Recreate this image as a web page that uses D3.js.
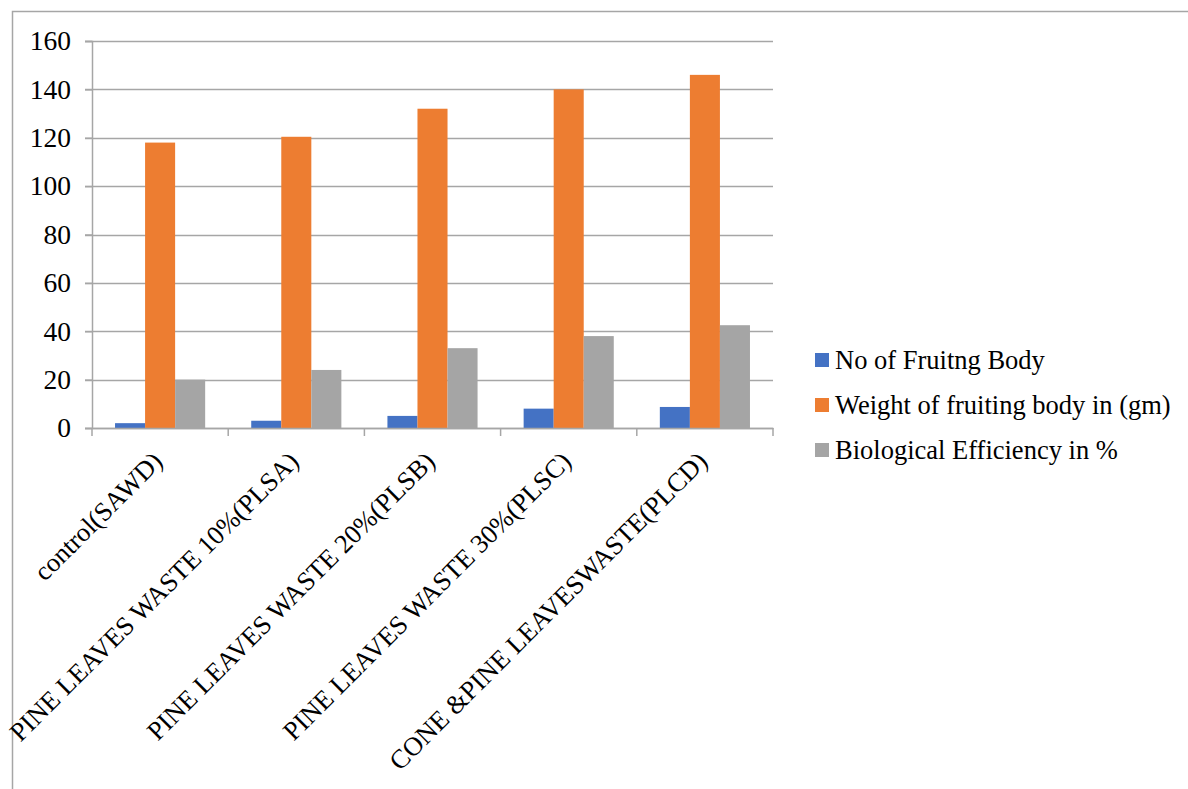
<!DOCTYPE html>
<html>
<head>
<meta charset="utf-8">
<script src="https://cdn.jsdelivr.net/npm/d3@7"></script>
<style>
  body { margin: 0; background: #fff; }
  text { font-family: 'Liberation Serif', 'Times New Roman', serif; fill: #000; }
</style>
</head>
<body>
<script>
const categories = [
  'control(SAWD)',
  'PINE LEAVES WASTE 10%(PLSA)',
  'PINE LEAVES WASTE 20%(PLSB)',
  'PINE LEAVES WASTE 30%(PLSC)',
  'CONE &PINE LEAVESWASTE(PLCD)',
];
const seriesNames = ['No of Fruitng Body', 'Weight of fruiting body in (gm)', 'Biological Efficiency in %'];
const fruitingBodies = [2, 3, 5, 8, 8.7];
const fruitWeight = [118, 120.4, 132, 140, 146];
const bioEfficiency = [20, 24, 33, 38, 42.5];
const yTicks = [0, 20, 40, 60, 80, 100, 120, 140, 160];
const colors = ['#4472C4', '#ED7D31', '#A5A5A5'];

const series = [fruitingBodies, fruitWeight, bioEfficiency];

const W = 1188;
const H = 789;
const plot = {
  left: 92, right: 773, top: 41, bottom: 428,
};

const svg = d3.select('body').append('svg')
  .attr('width', W)
  .attr('height', H);

// outer chart border
svg.append('path')
  .attr('d', `M12.5,${H} V11.5 H${W}`)
  .style('fill', 'none')
  .style('stroke', '#a6a6a6')
  .style('stroke-width', 1.5);

const x = d3.scaleBand().domain(categories).range([plot.left, plot.right]);
const xInner = d3.scaleBand().domain(d3.range(series.length))
  .range([0, x.bandwidth()])
  .paddingOuter(0.5 * 46 / 30)
  .paddingInner(0);
const y = d3.scaleLinear().domain([0, 160]).range([plot.bottom, plot.top]);

// gridlines
svg.append('g')
  .selectAll('line')
  .data(yTicks)
  .enter()
  .append('line')
  .attr('x1', plot.left - 7)
  .attr('x2', plot.right)
  .attr('y1', (d) => Math.round(y(d)) + 0.5)
  .attr('y2', (d) => Math.round(y(d)) + 0.5)
  .style('stroke', '#a6a6a6')
  .style('stroke-width', 1.5);

// y axis
const yAxis = svg.append('g')
  .attr('transform', `translate(${plot.left},0)`)
  .call(d3.axisLeft(y).tickValues(yTicks).tickSize(7).tickPadding(14));
yAxis.select('.domain').style('stroke', '#a6a6a6').style('stroke-width', 1.5);
yAxis.selectAll('.tick line').style('stroke', '#a6a6a6').style('stroke-width', 1.5);
yAxis.selectAll('.tick text')
  .style('font-size', '27.5px')
  .style('font-family', "'Liberation Serif', serif");

// bars
const groups = svg.append('g')
  .selectAll('g')
  .data(categories)
  .enter()
  .append('g')
  .attr('transform', (d) => `translate(${x(d)},0)`);

groups.selectAll('rect')
  .data((d, i) => series.map((s, k) => ({ k, v: s[i] })))
  .enter()
  .append('rect')
  .attr('x', (d) => xInner(d.k))
  .attr('width', xInner.bandwidth())
  .attr('y', (d) => y(d.v))
  .attr('height', (d) => y(0) - y(d.v))
  .style('fill', (d) => colors[d.k]);

// x axis
const xAxis = svg.append('g')
  .attr('transform', `translate(0,${plot.bottom})`)
  .call(d3.axisBottom(x).tickSize(0).tickFormat(''));
xAxis.select('.domain').style('stroke', '#a6a6a6').style('stroke-width', 1.5);

const bounds = categories.map((c) => x(c)).concat([plot.right]);
svg.append('g')
  .selectAll('line')
  .data(bounds)
  .enter()
  .append('line')
  .attr('x1', (d) => d)
  .attr('x2', (d) => d)
  .attr('y1', plot.bottom)
  .attr('y2', plot.bottom + 8)
  .style('stroke', '#a6a6a6')
  .style('stroke-width', 1.5);

svg.append('g')
  .selectAll('text')
  .data(categories)
  .enter()
  .append('text')
  .attr('transform', (d) => `translate(${x(d) + x.bandwidth() / 2 + 4},${plot.bottom + 35}) rotate(-45)`)
  .attr('text-anchor', 'end')
  .style('font-size', '26.5px')
  .text((d) => d);

// legend
const legend = svg.append('g')
  .selectAll('g')
  .data(seriesNames)
  .enter()
  .append('g')
  .attr('transform', (d, i) => `translate(815,${360 + i * 45})`);

legend.append('rect')
  .attr('x', 0)
  .attr('y', -7)
  .attr('width', 14)
  .attr('height', 14)
  .style('fill', (d, i) => colors[i]);

legend.append('text')
  .attr('x', 20)
  .attr('y', 9)
  .style('font-size', '26.5px')
  .text((d) => d);
</script>
</body>
</html>
